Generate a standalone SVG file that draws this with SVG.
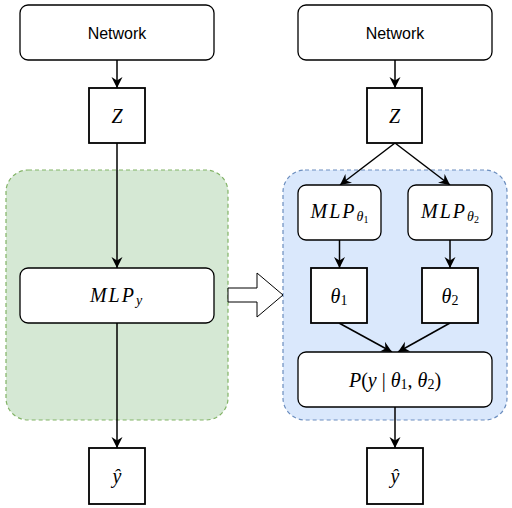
<svg xmlns="http://www.w3.org/2000/svg" width="512" height="508" viewBox="0 0 512 508">
<style>
.box{fill:#fff;stroke:#000;stroke-width:1.3}
.sq{fill:#fff;stroke:#000;stroke-width:1.8}
.lbl{font-family:"Liberation Sans",Arial,sans-serif;font-size:16px;fill:#000;text-anchor:middle;dominant-baseline:central}
.m{font-family:"Liberation Serif","Times New Roman",serif;font-style:italic;font-size:20px;fill:#000;text-anchor:middle;dominant-baseline:central}
.up{font-style:normal}
.sub{font-size:14px}
.sub2{font-size:10px;font-style:normal}
.e{fill:none;stroke:#000;stroke-width:1.5}
</style>
<defs>
<marker id="ah" viewBox="0 0 11 12" refX="11" refY="6" markerWidth="11" markerHeight="12" markerUnits="userSpaceOnUse" orient="auto">
<path d="M0,0.5 L11,6 L0,11.5 L3.5,6 z" fill="#000"/>
</marker>
</defs>
<g id="container-left"><rect x="6" y="170" width="222" height="250" rx="22" fill="#d5e8d4" stroke="#82b366" stroke-width="1.2" stroke-dasharray="4 3"/></g>
<g id="container-right"><rect x="283" y="170" width="224" height="250" rx="22" fill="#dae8fc" stroke="#6c8ebf" stroke-width="1.2" stroke-dasharray="4 3"/></g>
<g id="block-arrow"><path d="M228,288 L257,288 L257,273 L283,295 L257,317 L257,302 L228,302 Z" fill="#fff" stroke="#000" stroke-width="1"/></g>
<g id="connectors">
<line class="e" x1="117" y1="60" x2="117" y2="88" marker-end="url(#ah)"/>
<line class="e" x1="117" y1="143" x2="117" y2="268" marker-end="url(#ah)"/>
<line class="e" x1="117" y1="323" x2="117" y2="448" marker-end="url(#ah)"/>
<line class="e" x1="395" y1="60" x2="395" y2="88" marker-end="url(#ah)"/>
<line class="e" x1="395" y1="143" x2="340" y2="185" marker-end="url(#ah)"/>
<line class="e" x1="395" y1="143" x2="450" y2="185" marker-end="url(#ah)"/>
<line class="e" x1="339.5" y1="240" x2="339.5" y2="268" marker-end="url(#ah)"/>
<line class="e" x1="450" y1="240" x2="450" y2="268" marker-end="url(#ah)"/>
<line class="e" x1="339" y1="323" x2="392" y2="352" marker-end="url(#ah)"/>
<line class="e" x1="450" y1="323" x2="398" y2="352" marker-end="url(#ah)"/>
<line class="e" x1="395" y1="407" x2="395" y2="448" marker-end="url(#ah)"/>
</g>
<g id="network-left"><rect class="box" x="20" y="5" width="194" height="55" rx="8"/><text class="lbl" x="117" y="33">Network</text></g>
<g id="z-left"><rect class="sq" x="89" y="88" width="56" height="55"/><text class="m" x="117" y="116">Z</text></g>
<g id="mlp-y"><rect class="box" x="20" y="268" width="194" height="55" rx="8"/><text class="m" x="117" y="295" letter-spacing="2">MLP<tspan class="sub" dy="5">y</tspan></text></g>
<g id="yhat-left"><rect class="sq" x="89" y="448" width="56" height="56"/><text class="m" x="117" y="476">ŷ</text></g>
<g id="network-right"><rect class="box" x="298" y="5" width="194" height="55" rx="8"/><text class="lbl" x="395" y="33">Network</text></g>
<g id="z-right"><rect class="sq" x="367" y="88" width="55" height="55"/><text class="m" x="394.5" y="116">Z</text></g>
<g id="mlp-theta1"><rect class="box" x="298" y="185" width="83" height="55" rx="8"/><text class="m" x="339.5" y="211"><tspan letter-spacing="2">MLP</tspan><tspan class="sub" dy="5">θ</tspan><tspan class="sub2" dy="3">1</tspan></text></g>
<g id="mlp-theta2"><rect class="box" x="408" y="185" width="84" height="55" rx="8"/><text class="m" x="450" y="211"><tspan letter-spacing="2">MLP</tspan><tspan class="sub" dy="5">θ</tspan><tspan class="sub2" dy="3">2</tspan></text></g>
<g id="theta1"><rect class="sq" x="311" y="268" width="56" height="55"/><text class="m" x="339" y="296">θ<tspan class="sub up" dy="4">1</tspan></text></g>
<g id="theta2"><rect class="sq" x="422" y="268" width="56" height="55"/><text class="m" x="450" y="296">θ<tspan class="sub up" dy="4">2</tspan></text></g>
<g id="p-box"><rect class="box" x="298" y="352" width="194" height="55" rx="8"/><text class="m" x="395" y="380">P<tspan class="up">(</tspan>y <tspan class="up">|</tspan> θ<tspan class="sub up" dy="4">1</tspan><tspan class="up" dy="-4">, </tspan>θ<tspan class="sub up" dy="4">2</tspan><tspan class="up" dy="-4">)</tspan></text></g>
<g id="yhat-right"><rect class="sq" x="367" y="448" width="56" height="56"/><text class="m" x="395" y="476">ŷ</text></g>
</svg>
